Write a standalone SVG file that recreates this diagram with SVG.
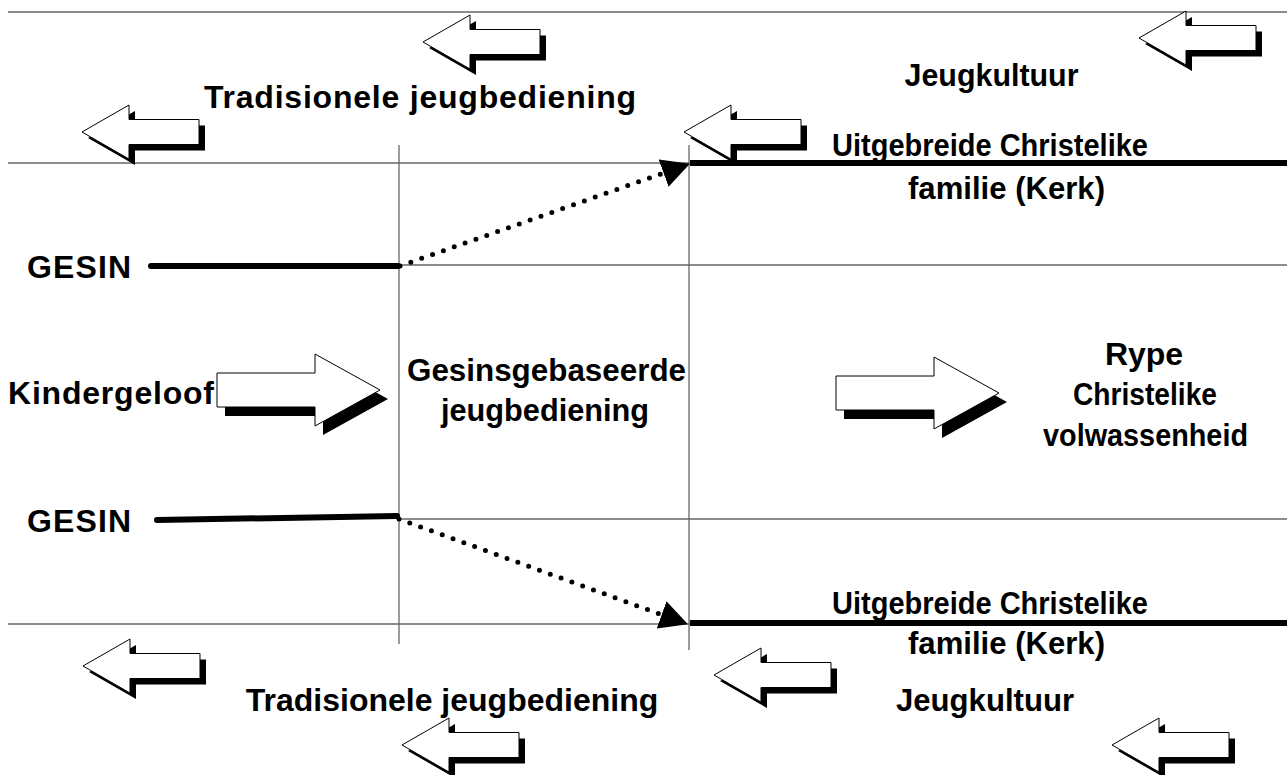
<svg xmlns="http://www.w3.org/2000/svg" xmlns:xlink="http://www.w3.org/1999/xlink" width="1287" height="775" viewBox="0 0 1287 775">
<style>
.thin{stroke:#666;stroke-width:1.3;fill:none}
.thick{stroke:#000;stroke-width:6;fill:none}
.dots{stroke:#000;stroke-width:5;stroke-linecap:round;stroke-dasharray:0 11.5;fill:none}
.lbl{font-family:"Liberation Sans",Arial,sans-serif;font-weight:bold;font-size:32px;fill:#000}
.face{fill:#fff;stroke:#000;stroke-width:1}
.shadow{fill:#000}
</style>
<defs>
<path id="la" d="M0,0 L47,-27 L47,-12.5 L117,-12.5 L117,12.5 L47,12.5 L47,27 Z"/>
<path id="ra" d="M0,-17 L98,-17 L98,-36 L163,0 L98,36 L98,17 L0,17 Z"/>
<marker id="tri" markerUnits="userSpaceOnUse" viewBox="0 0 28 29" refX="27" refY="14.5" markerWidth="28" markerHeight="29" orient="auto">
<path d="M0,0 L28,14.5 L0,29 Z" fill="#000"/>
</marker>
</defs>
<rect width="1287" height="775" fill="#fff"/>
<g id="grid">
<line class="thin" x1="8" y1="12" x2="1287" y2="12"/>
<line class="thin" x1="8" y1="163" x2="1287" y2="163"/>
<line class="thin" x1="400" y1="265" x2="1287" y2="265"/>
<line class="thin" x1="400" y1="519" x2="1287" y2="519"/>
<line class="thin" x1="8" y1="624" x2="1287" y2="624"/>
<line class="thin" x1="399" y1="145" x2="399" y2="644"/>
<line class="thin" x1="689" y1="145" x2="689" y2="650"/>
</g>
<g id="connectors">
<line class="thick" x1="690" y1="163" x2="1287" y2="163"/>
<line class="thick" x1="690" y1="623" x2="1287" y2="623"/>
<line class="thick" x1="151" y1="266" x2="398" y2="266" stroke-linecap="round"/>
<line class="thick" x1="157" y1="520" x2="397" y2="516" stroke-linecap="round"/>
<path class="dots" d="M400,266 L689,164"/>
<path d="M660,174.5 L689,164" stroke="none" fill="none" marker-end="url(#tri)"/>
<path class="dots" d="M399,519 L687,624"/>
<path d="M659,614 L687,624" stroke="none" fill="none" marker-end="url(#tri)"/>
</g>
<g id="arrow-top-center">
<use xlink:href="#la" class="shadow" transform="translate(429,48)"/>
<use xlink:href="#la" class="face" transform="translate(423,42)"/>
</g>
<g id="arrow-top-right">
<use xlink:href="#la" class="shadow" transform="translate(1145,44)"/>
<use xlink:href="#la" class="face" transform="translate(1139,38)"/>
</g>
<g id="arrow-top-left">
<use xlink:href="#la" class="shadow" transform="translate(88,138)"/>
<use xlink:href="#la" class="face" transform="translate(82,132)"/>
</g>
<g id="arrow-top-mid">
<use xlink:href="#la" class="shadow" transform="translate(690,138)"/>
<use xlink:href="#la" class="face" transform="translate(684,132)"/>
</g>
<g id="arrow-bottom-left">
<use xlink:href="#la" class="shadow" transform="translate(89,672)"/>
<use xlink:href="#la" class="face" transform="translate(83,666)"/>
</g>
<g id="arrow-bottom-mid">
<use xlink:href="#la" class="shadow" transform="translate(720,681)"/>
<use xlink:href="#la" class="face" transform="translate(714,675)"/>
</g>
<g id="arrow-bottom-center">
<use xlink:href="#la" class="shadow" transform="translate(408,751)"/>
<use xlink:href="#la" class="face" transform="translate(402,745)"/>
</g>
<g id="arrow-bottom-right">
<use xlink:href="#la" class="shadow" transform="translate(1118,751)"/>
<use xlink:href="#la" class="face" transform="translate(1112,745)"/>
</g>
<g id="arrow-kindergeloof">
<use xlink:href="#ra" class="shadow" transform="translate(225,399)"/>
<use xlink:href="#ra" class="face" transform="translate(217,390)"/>
</g>
<g id="arrow-volwassenheid">
<use xlink:href="#ra" class="shadow" transform="translate(844,402)"/>
<use xlink:href="#ra" class="face" transform="translate(836,393)"/>
</g>
<g id="labels">
<text class="lbl" x="991.5" y="86" text-anchor="middle" textLength="174" lengthAdjust="spacingAndGlyphs">Jeugkultuur</text>
<text class="lbl" x="420" y="108" text-anchor="middle" textLength="432">Tradisionele jeugbediening</text>
<text class="lbl" x="990" y="156" text-anchor="middle" textLength="316" lengthAdjust="spacingAndGlyphs">Uitgebreide Christelike</text>
<text class="lbl" x="1006.5" y="199" text-anchor="middle" textLength="197" lengthAdjust="spacingAndGlyphs">familie (Kerk)</text>
<text class="lbl" x="27" y="278" textLength="104">GESIN</text>
<text class="lbl" x="8" y="404" textLength="206">Kindergeloof</text>
<text class="lbl" x="546.5" y="381" text-anchor="middle" textLength="279" lengthAdjust="spacingAndGlyphs">Gesinsgebaseerde</text>
<text class="lbl" x="545" y="421" text-anchor="middle" textLength="208" lengthAdjust="spacingAndGlyphs">jeugbediening</text>
<text class="lbl" x="1144" y="365" text-anchor="middle">Rype</text>
<text class="lbl" x="1145" y="405" text-anchor="middle" textLength="144" lengthAdjust="spacingAndGlyphs">Christelike</text>
<text class="lbl" x="1145.5" y="446" text-anchor="middle" textLength="205" lengthAdjust="spacingAndGlyphs">volwassenheid</text>
<text class="lbl" x="27" y="532" textLength="104">GESIN</text>
<text class="lbl" x="990" y="614" text-anchor="middle" textLength="316" lengthAdjust="spacingAndGlyphs">Uitgebreide Christelike</text>
<text class="lbl" x="1006.5" y="654" text-anchor="middle" textLength="197" lengthAdjust="spacingAndGlyphs">familie (Kerk)</text>
<text class="lbl" x="452" y="711" text-anchor="middle">Tradisionele jeugbediening</text>
<text class="lbl" x="985" y="711" text-anchor="middle" textLength="178" lengthAdjust="spacingAndGlyphs">Jeugkultuur</text>
</g>
</svg>
